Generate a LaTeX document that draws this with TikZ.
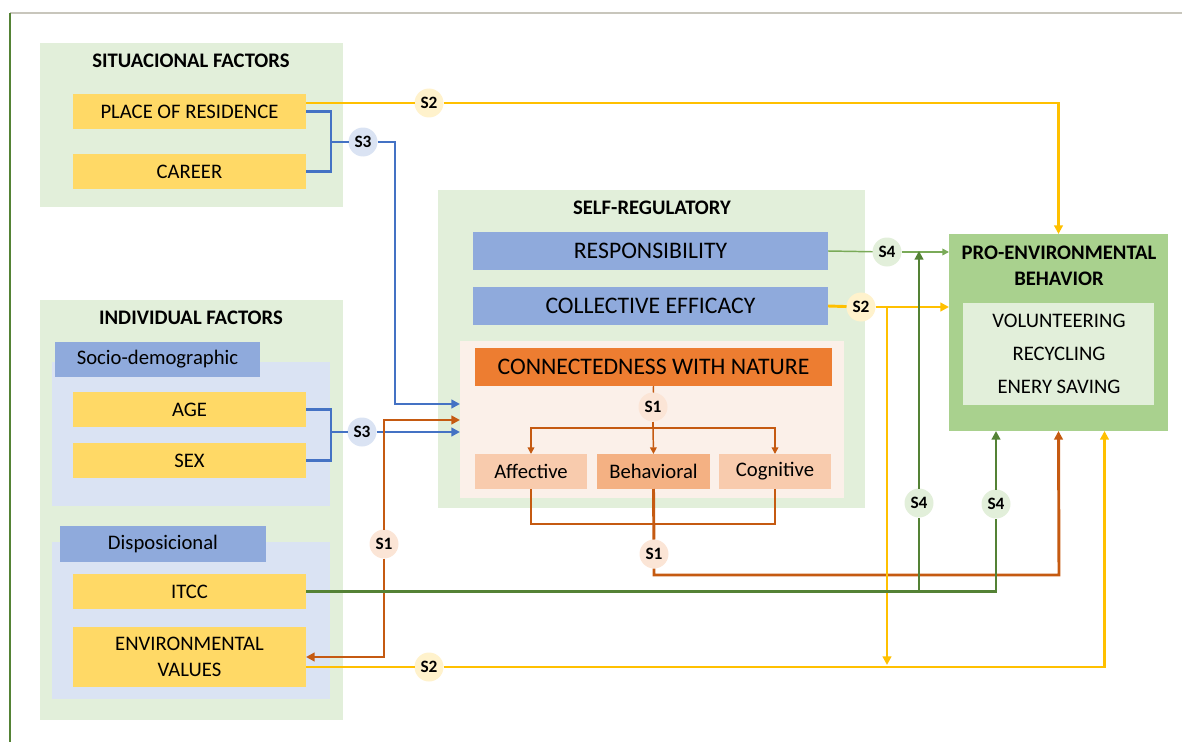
\documentclass[tikz,border=0pt]{standalone}
\usepackage{fontspec}
\setmainfont{Carlito}
\usetikzlibrary{arrows.meta,calc}

% palette
\definecolor{bgGreen}{HTML}{E2EFDA}
\definecolor{bgBlue}{HTML}{DAE3F3}
\definecolor{midBlue}{HTML}{8FAADC}
\definecolor{yGold}{HTML}{FFD966}
\definecolor{peachBg}{HTML}{FBF0E9}
\definecolor{orangeMain}{HTML}{ED7D31}
\definecolor{peachLight}{HTML}{F8CBAD}
\definecolor{peachMid}{HTML}{F4B183}
\definecolor{pebGreen}{HTML}{A9D18E}
\definecolor{cYel}{HTML}{FFC000}
\definecolor{cBlue}{HTML}{4472C4}
\definecolor{cOrange}{HTML}{C55A11}
\definecolor{cGreen}{HTML}{548235}
\definecolor{cGreenThin}{HTML}{7AAA58}
\definecolor{fillSTwo}{HTML}{FFF2CC}
\definecolor{fillSThree}{HTML}{DAE3F3}
\definecolor{fillSOne}{HTML}{FBE5D6}
\definecolor{fillSFour}{HTML}{E2EFDA}
\definecolor{frameGray}{HTML}{C8C6BC}

% type sizes
\newcommand\fsTitle{\fontsize{15.5}{19.5}\selectfont\bfseries}
\newcommand\fsBox{\fontsize{15.5}{19}\selectfont}
\newcommand\fsBig{\fontsize{17.8}{21}\selectfont}
\newcommand\fsCirc{\fontsize{13}{15}\selectfont\bfseries}

\begin{document}
\begin{tikzpicture}[x=0.75pt,y=-0.75pt,
  rect/.style={rectangle, inner sep=0pt, outer sep=0pt, align=center, text=black},
  % box spanning corners (x1,y1)-(x2,y2), given in picture units
  spanbox/.style n args={4}{minimum width={(#3-#1)*0.75pt}, minimum height={(#4-#2)*0.75pt},
    at={({(#1+#3)/2},{(#2+#4)/2})}},
  ttl/.style={font=\fsTitle, align=center, inner sep=0pt},
  item/.style={font=\fsBox, inner sep=0pt},
  circ/.style={circle, fill=#1, inner sep=0pt, outer sep=0pt, minimum size=21.75pt, font=\fsCirc},
  tipend/.style={-{Triangle[length=6.5pt,width=6.5pt]}},
  tipthin/.style={-{Triangle[length=5pt,width=5pt]}},
  linkY/.style={draw=cYel, line width=2.2pt},
  linkB/.style={draw=cBlue, line width=2.2pt},
  linkO/.style={draw=cOrange, line width=2.2pt},
  linkG/.style={draw=cGreen, line width=2.2pt},
  linkOt/.style={draw=cOrange, line width=1.1pt},
  linkGt/.style={draw=cGreenThin, line width=1.1pt}]

\useasboundingbox (0,0) rectangle (1182,742);

% page rules
\coordinate (fTL) at (10,13);
\coordinate (fTR) at (1182,13);
\coordinate (fBL) at (10,742);
\draw[frameGray, line width=0.9pt] (fTL) -- (fTR);
\draw[cGreen, line width=0.9pt] (fTL) -- (fBL);

% situational factors
\node[rect, fill=bgGreen, spanbox={40}{43}{343}{207}] (sitgrp) {};
\node[ttl] (sittitle) at (191,61) {SITUACIONAL FACTORS};
\node[rect, fill=yGold, font=\fsBox, spanbox={73}{94}{306}{129}] (place) {PLACE OF RESIDENCE};
\node[rect, fill=yGold, font=\fsBox, spanbox={73}{154}{306}{189}] (career) {CAREER};

% individual factors
\node[rect, fill=bgGreen, spanbox={40}{300}{343}{720}] (indgrp) {};
\node[ttl] (indtitle) at (191,318) {INDIVIDUAL FACTORS};
\node[rect, fill=bgBlue, spanbox={52}{362}{330}{506}] (sociogrp) {};
\node[rect, fill=midBlue, font=\fsBox, spanbox={55}{342}{260}{377}] (sociolab) {Socio-demographic};
\node[rect, fill=yGold, font=\fsBox, spanbox={73}{392}{306}{427}] (age) {AGE};
\node[rect, fill=yGold, font=\fsBox, spanbox={73}{443}{306}{478}] (sex) {SEX};
\node[rect, fill=bgBlue, spanbox={52}{542}{330}{699}] (dispgrp) {};
\node[rect, fill=midBlue, font=\fsBox, spanbox={60}{526}{266}{562}] (displab) {Disposicional};
\node[rect, fill=yGold, font=\fsBox, spanbox={73}{574}{306}{609}] (itcc) {ITCC};
\node[rect, fill=yGold, font=\fsBox, spanbox={73}{627}{306}{687}] (envval) {ENVIRONMENTAL\\VALUES};

% self-regulatory
\node[rect, fill=bgGreen, spanbox={438}{190}{865}{508}] (selfgrp) {};
\node[ttl] (selftitle) at (652,208) {SELF-REGULATORY};
\node[rect, fill=midBlue, font=\fsBig, spanbox={473}{232}{828}{270}] (resp) {RESPONSIBILITY};
\node[rect, fill=midBlue, font=\fsBig, spanbox={473}{287}{828}{325}] (ce) {COLLECTIVE EFFICACY};
\node[rect, fill=peachBg, spanbox={460}{341}{844}{498}] (cwngrp) {};
\node[rect, fill=orangeMain, font=\fsBig, spanbox={475}{348}{832}{386}] (cwn) {CONNECTEDNESS WITH NATURE};
\node[rect, fill=peachLight, font=\fsBox, spanbox={475}{454}{587}{489}] (aff) {Affective};
\node[rect, fill=peachMid, font=\fsBox, spanbox={597}{454}{710}{489}] (beh) {Behavioral};
\node[rect, fill=peachLight, font=\fsBox, spanbox={719}{454}{831}{489}] (cog) {Cognitive};

% pro-environmental behavior
\node[rect, fill=pebGreen, spanbox={949}{234}{1168}{431}] (peb) {};
\node[ttl] (pebtitle) at (1059,266) {PRO-ENVIRONMENTAL\\BEHAVIOR};
\node[rect, fill=bgGreen, spanbox={963}{303}{1154}{405}] (pebin) {};
\node[item] (vol) at (1059,321) {VOLUNTEERING};
\node[item] (rec) at (1059,354) {RECYCLING};
\node[item] (ene) at (1059,387) {ENERY SAVING};

% path labels
\node[circ=fillSTwo] (s2a) at (429,103) {S2};
\node[circ=fillSThree] (s3a) at (363,142) {S3};
\node[circ=fillSThree] (s3b) at (362,432) {S3};
\node[circ=fillSOne] (s1a) at (653,407) {S1};
\node[circ=fillSOne] (s1b) at (384,544) {S1};
\node[circ=fillSOne] (s1c) at (654,554) {S1};
\node[circ=fillSTwo] (s2b) at (861,307) {S2};
\node[circ=fillSTwo] (s2c) at (429,667) {S2};
\node[circ=fillSFour] (s4a) at (887,252) {S4};
\node[circ=fillSFour] (s4b) at (919,503) {S4};
\node[circ=fillSFour] (s4c) at (996,504) {S4};

% routing points
\coordinate (b1) at (331,142);
\coordinate (b2) at (395,404);
\coordinate (b3) at (331,432);
\coordinate (o1) at (384,420);
\coordinate (t1) at (653,428);
\coordinate (o2) at (1059,575);

% S2: place of residence -> behavior
\draw[linkY] ($(place.east)+(0,-8.5)$) -- (s2a);
\draw[linkY, tipend] (s2a) -| (peb.north);

% S3: situational -> connectedness
\draw[linkB] (place.east) -| (b1) |- (career.east);
\draw[linkB] (b1) -- (s3a);
\draw[linkB, tipend] (s3a) -| (b2) -- (cwngrp.west |- b2);

% S3: socio-demographic -> connectedness
\draw[linkB] (age.east) -| (b3) |- (sex.east);
\draw[linkB] (b3) -- (s3b);
\draw[linkB, tipend] (s3b) -- (cwngrp.west |- s3b);

% S1: connectedness dimensions
\draw[linkOt] (cwn.south) -- (s1a);
\draw[linkOt] (s1a) -- (t1);
\draw[linkOt, tipthin] (t1) -| (aff.north);
\draw[linkOt, tipthin] (t1) -- (beh.north);
\draw[linkOt, tipthin] (t1) -| (cog.north);

% S1: environmental values <-> connectedness
\draw[linkO, tipend] (s1b) |- (envval.east);
\draw[linkO, tipend] (s1b) |- (o1) -- (cwngrp.west |- o1);

% S1: dimensions -> behavior
\draw[linkO] (aff.south) -- ++(0,35) -| (cog.south);
\draw[linkO] (beh.south) -- (s1c);
\draw[linkO, tipend] (s1c) |- (o2) -- (peb.south);

% S2: collective efficacy -> behavior
\draw[linkY] (ce.east) -- (s2b);
\draw[linkY, tipend] (s2b) -- (peb.west |- s2b);
\draw[linkY, tipend] (s4a |- s2b) -- ($(s4a |- s2c)+(0,-2)$);

% S2: environmental values -> behavior
\draw[linkY] ($(envval.east)+(0,10)$) -- (s2c);
\draw[linkY, tipend] (s2c) -| ($(peb.south)+(46,0)$);

% S4: responsibility -> behavior
\draw[linkGt] (resp.east) -- (s4a);
\draw[linkGt, tipthin] (s4a) -- (peb.west |- s4a);

% S4: ITCC paths
\draw[linkG] (itcc.east) -| (s4c);
\draw[linkG, tipend] (s4c) -- (s4c |- peb.south);
\draw[linkG] (s4b |- itcc.east) -- (s4b);
\draw[linkG, tipend] (s4b) -- (s4b |- resp.east);

\end{tikzpicture}
\end{document}
